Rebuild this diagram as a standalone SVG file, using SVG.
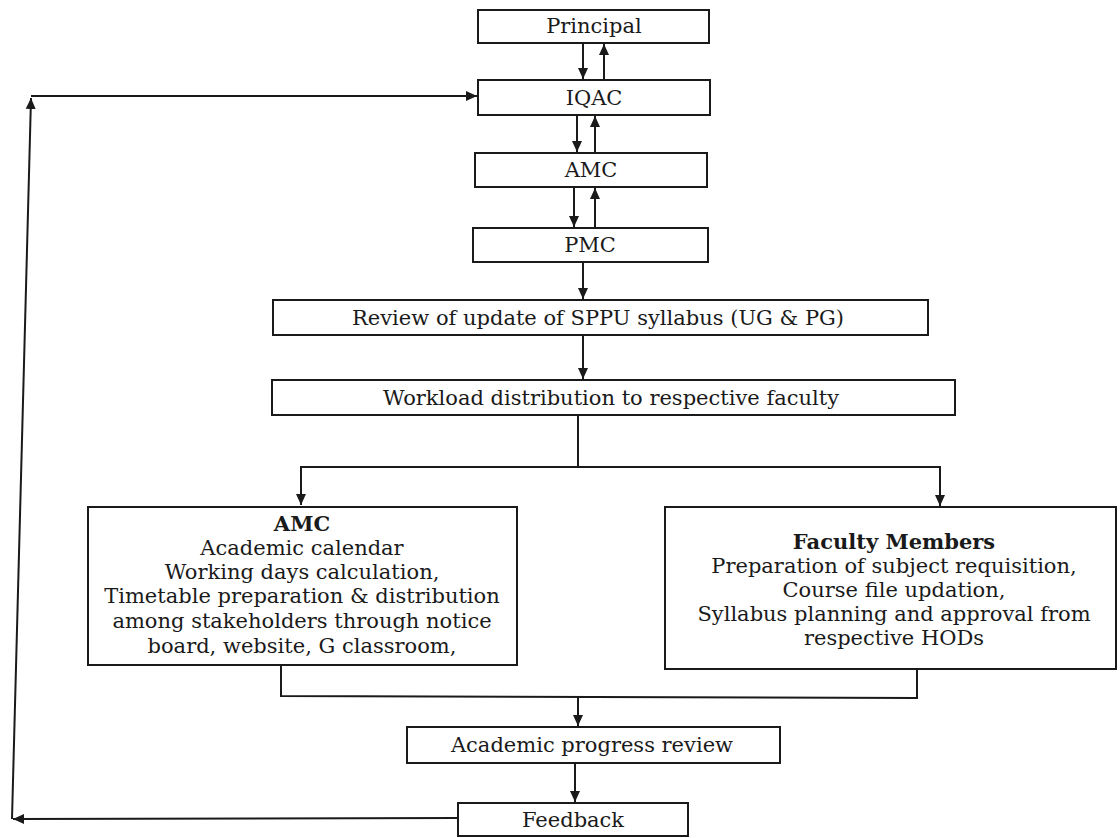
<svg xmlns="http://www.w3.org/2000/svg" width="1120" height="838" viewBox="0 0 1120 838">
<style>
.box{fill:#fff;stroke:#1a1a1a;stroke-width:2}
.t{font-family:"DejaVu Serif","Liberation Serif",serif;font-size:21px;fill:#1a1a1a;text-anchor:middle}
.b{font-weight:bold}
.c{fill:none;stroke:#1a1a1a;stroke-width:2}
</style>
<defs>
<marker id="ah" markerUnits="userSpaceOnUse" markerWidth="12" markerHeight="12" refX="11" refY="6" orient="auto">
<path d="M0,1 L11,6 L0,11 Z" fill="#1a1a1a"/>
</marker>
</defs>
<rect width="1120" height="838" fill="#fff"/>
<g id="connectors">
<line class="c" x1="583" y1="43" x2="583" y2="79" marker-end="url(#ah)"/>
<line class="c" x1="604" y1="80" x2="604" y2="44" marker-end="url(#ah)"/>
<line class="c" x1="577" y1="115" x2="577" y2="152" marker-end="url(#ah)"/>
<line class="c" x1="595" y1="153" x2="595" y2="116" marker-end="url(#ah)"/>
<line class="c" x1="574" y1="187" x2="574" y2="227" marker-end="url(#ah)"/>
<line class="c" x1="595" y1="228" x2="595" y2="188" marker-end="url(#ah)"/>
<line class="c" x1="583" y1="262" x2="583" y2="299" marker-end="url(#ah)"/>
<line class="c" x1="583" y1="335" x2="583" y2="379" marker-end="url(#ah)"/>
<polyline class="c" points="578,415 578,467 301,467 301,505" marker-end="url(#ah)"/>
<polyline class="c" points="578,467 940,467 940,506" marker-end="url(#ah)"/>
<polyline class="c" points="281,665 281,696 917,698 917,669"/>
<line class="c" x1="578" y1="697" x2="578" y2="726" marker-end="url(#ah)"/>
<line class="c" x1="575" y1="763" x2="575" y2="802" marker-end="url(#ah)"/>
<line class="c" x1="458" y1="818" x2="13" y2="819" marker-end="url(#ah)"/>
<line class="c" x1="12" y1="819" x2="31" y2="98" marker-end="url(#ah)"/>
<line class="c" x1="31" y1="96" x2="477" y2="96" marker-end="url(#ah)"/>
</g>
<g id="principal"><rect class="box" x="478" y="10" width="231" height="33"/><text class="t" x="594" y="33">Principal</text></g>
<g id="iqac"><rect class="box" x="478" y="80" width="232" height="35"/><text class="t" x="594" y="105">IQAC</text></g>
<g id="amc"><rect class="box" x="475" y="153" width="232" height="34"/><text class="t" x="591" y="177">AMC</text></g>
<g id="pmc"><rect class="box" x="473" y="228" width="235" height="34"/><text class="t" x="590" y="252">PMC</text></g>
<g id="review"><rect class="box" x="273" y="300" width="655" height="35"/><text class="t" x="598" y="325">Review of update of SPPU syllabus (UG &amp; PG)</text></g>
<g id="workload"><rect class="box" x="272" y="380" width="683" height="35"/><text class="t" x="611" y="405">Workload distribution to respective faculty</text></g>
<g id="amc-tasks"><rect class="box" x="88" y="507" width="429" height="158"/>
<text class="t b" x="302" y="531">AMC</text>
<text class="t" x="302" y="555">Academic calendar</text>
<text class="t" x="302" y="579">Working days calculation,</text>
<text class="t" x="302" y="603">Timetable preparation &amp; distribution</text>
<text class="t" x="302" y="628">among stakeholders through notice</text>
<text class="t" x="302" y="653">board, website, G classroom,</text>
</g>
<g id="faculty"><rect class="box" x="665" y="507" width="451" height="162"/>
<text class="t b" x="894" y="549">Faculty Members</text>
<text class="t" x="894" y="573">Preparation of subject requisition,</text>
<text class="t" x="894" y="597">Course file updation,</text>
<text class="t" x="894" y="621">Syllabus planning and approval from</text>
<text class="t" x="894" y="645">respective HODs</text>
</g>
<g id="progress"><rect class="box" x="407" y="727" width="373" height="36"/><text class="t" x="592" y="752">Academic progress review</text></g>
<g id="feedback"><rect class="box" x="458" y="803" width="230" height="33"/><text class="t" x="573" y="827">Feedback</text></g>
</svg>
